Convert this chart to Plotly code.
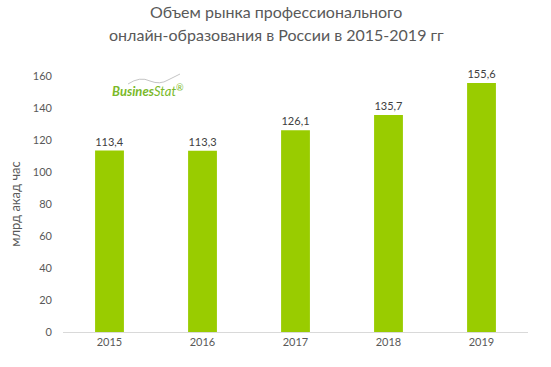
import plotly.graph_objects as go

years = ["2015", "2016", "2017", "2018", "2019"]
values = [113.4, 113.3, 126.1, 135.7, 155.6]
labels = ["113,4", "113,3", "126,1", "135,7", "155,6"]
y_ticks = [0, 20, 40, 60, 80, 100, 120, 140, 160]

FONT = "Lato"
GREY = "#595959"
W, H = 551, 367
L, R, T, B = 63, 23, 76, 35


def px(x):
    return (x - L) / (W - L - R)


def py(y):
    return (H - B - y) / (H - T - B)


fig = go.Figure()
fig.add_trace(go.Bar(
    x=years, y=values, text=labels, textposition="outside",
    textfont=dict(family=FONT, size=11, color="#404040"),
    marker=dict(color="#99cc00", line=dict(width=0)),
    cliponaxis=False,
))

fig.update_layout(
    width=W, height=H,
    margin=dict(l=L, r=R, t=T, b=B, autoexpand=False),
    paper_bgcolor="white", plot_bgcolor="white",
    bargap=0.69,
    showlegend=False,
    xaxis=dict(
        showline=True, linecolor="#d9d9d9", linewidth=1, automargin=False,
        ticks="", tickfont=dict(family=FONT, size=11, color=GREY),
        showgrid=False,
    ),
    yaxis=dict(
        range=[0, 160], tickvals=y_ticks, showgrid=False, zeroline=False,
        showline=False, ticks="", ticklabelstandoff=10, automargin=False,
        tickfont=dict(family=FONT, size=11, color=GREY),
        title=dict(text="млрд акад час", font=dict(family=FONT, size=13, color=GREY), standoff=9),
    ),
)

# title lines
fig.add_annotation(x=px(276), y=py(11), xref="paper", yref="paper", showarrow=False,
                   text="Объем рынка профессионального",
                   font=dict(family=FONT, size=16, color=GREY), xanchor="center", yanchor="middle")
fig.add_annotation(x=px(276), y=py(34), xref="paper", yref="paper", showarrow=False,
                   text="онлайн-образования в России в 2015-2019 гг",
                   font=dict(family=FONT, size=16, color=GREY), xanchor="center", yanchor="middle")

# logo
fig.add_annotation(x=px(148), y=py(90), xref="paper", yref="paper", showarrow=False,
                   xanchor="center", yanchor="middle",
                   text="<b><i>Busines</i></b><i>Stat</i><sup>®</sup>",
                   font=dict(family=FONT, size=13, color="#7ab929"))
fig.add_shape(type="path", xref="paper", yref="paper",
              path=(f"M {px(128)} {py(84)} Q {px(140)} {py(76)} {px(150)} {py(81)} "
                    f"Q {px(160)} {py(85)} {px(168)} {py(80)} L {px(180)} {py(74)}"),
              line=dict(color="#b5b5b5", width=0.8))

fig.write_html("out.html", config={"displayModeBar": False},
               post_script="document.body.style.margin='0';")
